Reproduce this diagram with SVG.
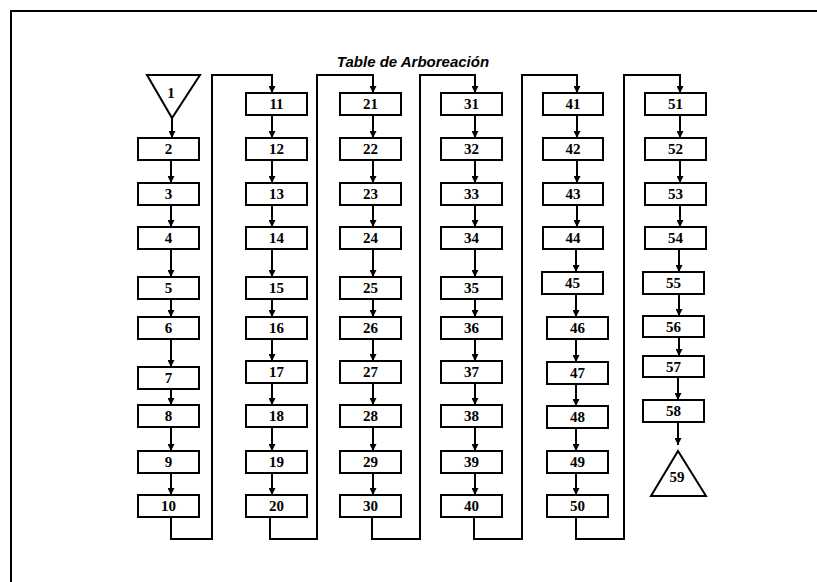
<svg xmlns="http://www.w3.org/2000/svg" width="817" height="582" viewBox="0 0 817 582">
<defs>
<marker id="ah" markerWidth="7" markerHeight="7" refX="7" refY="3.5" orient="auto" markerUnits="userSpaceOnUse"><path d="M0,0 L7,3.5 L0,7 z" fill="#000"/></marker>
<style>
.b{fill:#fff;stroke:#000;stroke-width:2}
.t{font-family:"Liberation Serif","Times New Roman",serif;font-weight:bold;font-size:15px;text-anchor:middle;dominant-baseline:central;fill:#000}
.c{fill:none;stroke:#000;stroke-width:2}
.a{fill:none;stroke:#000;stroke-width:2;marker-end:url(#ah)}
.title{font-family:"Liberation Sans",Arial,sans-serif;font-weight:bold;font-style:italic;font-size:15px;text-anchor:middle;fill:#000}
</style>
</defs>
<rect width="817" height="582" fill="#fff"/>
<path class="c" d="M11,582 V11 H817"/>
<text class="title" x="413" y="67">Table de Arboreación</text>

<g id="n1"><polygon class="b" points="147,75 200,75 172,118"/><text class="t" x="171" y="93">1</text></g>
<g id="n2"><rect class="b" x="138" y="138" width="61" height="22"/><text class="t" x="168.5" y="149">2</text></g>
<g id="n3"><rect class="b" x="138" y="183" width="61" height="22"/><text class="t" x="168.5" y="194">3</text></g>
<g id="n4"><rect class="b" x="138" y="227" width="61" height="22"/><text class="t" x="168.5" y="238">4</text></g>
<g id="n5"><rect class="b" x="138" y="277" width="61" height="22"/><text class="t" x="168.5" y="288">5</text></g>
<g id="n6"><rect class="b" x="138" y="317" width="61" height="22"/><text class="t" x="168.5" y="328">6</text></g>
<g id="n7"><rect class="b" x="138" y="367" width="61" height="22"/><text class="t" x="168.5" y="378">7</text></g>
<g id="n8"><rect class="b" x="138" y="405" width="61" height="22"/><text class="t" x="168.5" y="416">8</text></g>
<g id="n9"><rect class="b" x="138" y="451" width="61" height="22"/><text class="t" x="168.5" y="462">9</text></g>
<g id="n10"><rect class="b" x="138" y="495" width="61" height="22"/><text class="t" x="168.5" y="506">10</text></g>

<g id="n11"><rect class="b" x="246" y="93" width="61" height="22"/><text class="t" x="276.5" y="104">11</text></g>
<g id="n12"><rect class="b" x="246" y="138" width="61" height="22"/><text class="t" x="276.5" y="149">12</text></g>
<g id="n13"><rect class="b" x="246" y="183" width="61" height="22"/><text class="t" x="276.5" y="194">13</text></g>
<g id="n14"><rect class="b" x="246" y="227" width="61" height="22"/><text class="t" x="276.5" y="238">14</text></g>
<g id="n15"><rect class="b" x="246" y="277" width="61" height="22"/><text class="t" x="276.5" y="288">15</text></g>
<g id="n16"><rect class="b" x="246" y="317" width="61" height="22"/><text class="t" x="276.5" y="328">16</text></g>
<g id="n17"><rect class="b" x="246" y="361" width="61" height="22"/><text class="t" x="276.5" y="372">17</text></g>
<g id="n18"><rect class="b" x="246" y="405" width="61" height="22"/><text class="t" x="276.5" y="416">18</text></g>
<g id="n19"><rect class="b" x="246" y="451" width="61" height="22"/><text class="t" x="276.5" y="462">19</text></g>
<g id="n20"><rect class="b" x="246" y="495" width="61" height="22"/><text class="t" x="276.5" y="506">20</text></g>

<g id="n21"><rect class="b" x="340" y="93" width="61" height="22"/><text class="t" x="370.5" y="104">21</text></g>
<g id="n22"><rect class="b" x="340" y="138" width="61" height="22"/><text class="t" x="370.5" y="149">22</text></g>
<g id="n23"><rect class="b" x="340" y="183" width="61" height="22"/><text class="t" x="370.5" y="194">23</text></g>
<g id="n24"><rect class="b" x="340" y="227" width="61" height="22"/><text class="t" x="370.5" y="238">24</text></g>
<g id="n25"><rect class="b" x="340" y="277" width="61" height="22"/><text class="t" x="370.5" y="288">25</text></g>
<g id="n26"><rect class="b" x="340" y="317" width="61" height="22"/><text class="t" x="370.5" y="328">26</text></g>
<g id="n27"><rect class="b" x="340" y="361" width="61" height="22"/><text class="t" x="370.5" y="372">27</text></g>
<g id="n28"><rect class="b" x="340" y="405" width="61" height="22"/><text class="t" x="370.5" y="416">28</text></g>
<g id="n29"><rect class="b" x="340" y="451" width="61" height="22"/><text class="t" x="370.5" y="462">29</text></g>
<g id="n30"><rect class="b" x="340" y="495" width="61" height="22"/><text class="t" x="370.5" y="506">30</text></g>

<g id="n31"><rect class="b" x="441" y="93" width="61" height="22"/><text class="t" x="471.5" y="104">31</text></g>
<g id="n32"><rect class="b" x="441" y="138" width="61" height="22"/><text class="t" x="471.5" y="149">32</text></g>
<g id="n33"><rect class="b" x="441" y="183" width="61" height="22"/><text class="t" x="471.5" y="194">33</text></g>
<g id="n34"><rect class="b" x="441" y="227" width="61" height="22"/><text class="t" x="471.5" y="238">34</text></g>
<g id="n35"><rect class="b" x="441" y="277" width="61" height="22"/><text class="t" x="471.5" y="288">35</text></g>
<g id="n36"><rect class="b" x="441" y="317" width="61" height="22"/><text class="t" x="471.5" y="328">36</text></g>
<g id="n37"><rect class="b" x="441" y="361" width="61" height="22"/><text class="t" x="471.5" y="372">37</text></g>
<g id="n38"><rect class="b" x="441" y="405" width="61" height="22"/><text class="t" x="471.5" y="416">38</text></g>
<g id="n39"><rect class="b" x="441" y="451" width="61" height="22"/><text class="t" x="471.5" y="462">39</text></g>
<g id="n40"><rect class="b" x="441" y="495" width="61" height="22"/><text class="t" x="471.5" y="506">40</text></g>

<g id="n41"><rect class="b" x="543" y="93" width="60" height="22"/><text class="t" x="573" y="104">41</text></g>
<g id="n42"><rect class="b" x="543" y="138" width="60" height="22"/><text class="t" x="573" y="149">42</text></g>
<g id="n43"><rect class="b" x="543" y="183" width="60" height="22"/><text class="t" x="573" y="194">43</text></g>
<g id="n44"><rect class="b" x="543" y="227" width="60" height="22"/><text class="t" x="573" y="238">44</text></g>
<g id="n45"><rect class="b" x="542" y="272" width="61" height="22"/><text class="t" x="572.5" y="283">45</text></g>
<g id="n46"><rect class="b" x="547" y="317" width="61" height="22"/><text class="t" x="577.5" y="328">46</text></g>
<g id="n47"><rect class="b" x="547" y="362" width="61" height="22"/><text class="t" x="577.5" y="373">47</text></g>
<g id="n48"><rect class="b" x="547" y="406" width="61" height="22"/><text class="t" x="577.5" y="417">48</text></g>
<g id="n49"><rect class="b" x="547" y="451" width="61" height="22"/><text class="t" x="577.5" y="462">49</text></g>
<g id="n50"><rect class="b" x="547" y="495" width="61" height="22"/><text class="t" x="577.5" y="506">50</text></g>

<g id="n51"><rect class="b" x="645" y="93" width="61" height="22"/><text class="t" x="675.5" y="104">51</text></g>
<g id="n52"><rect class="b" x="645" y="138" width="61" height="22"/><text class="t" x="675.5" y="149">52</text></g>
<g id="n53"><rect class="b" x="645" y="183" width="61" height="22"/><text class="t" x="675.5" y="194">53</text></g>
<g id="n54"><rect class="b" x="645" y="227" width="61" height="22"/><text class="t" x="675.5" y="238">54</text></g>
<g id="n55"><rect class="b" x="643" y="272" width="61" height="22"/><text class="t" x="673.5" y="283">55</text></g>
<g id="n56"><rect class="b" x="643" y="316" width="61" height="21"/><text class="t" x="673.5" y="326.5">56</text></g>
<g id="n57"><rect class="b" x="643" y="356" width="61" height="21"/><text class="t" x="673.5" y="366.5">57</text></g>
<g id="n58"><rect class="b" x="643" y="400" width="61" height="22"/><text class="t" x="673.5" y="411">58</text></g>
<g id="n59"><polygon class="b" points="678,451 706,496 651,496"/><text class="t" x="677" y="477" font-size="13">59</text></g>

<g id="connectors">
<path class="a" d="M172,118 V138"/>
<path class="a" d="M171,160 V183"/>
<path class="a" d="M171,205 V227"/>
<path class="a" d="M171,249 V277"/>
<path class="a" d="M171,299 V317"/>
<path class="a" d="M171,339 V367"/>
<path class="a" d="M171,389 V405"/>
<path class="a" d="M171,427 V451"/>
<path class="a" d="M171,473 V495"/>
<path class="a" d="M171,517 V539 H212 V75 H272 V93"/>

<path class="a" d="M272,115 V138"/>
<path class="a" d="M272,160 V183"/>
<path class="a" d="M272,205 V227"/>
<path class="a" d="M272,249 V277"/>
<path class="a" d="M272,299 V317"/>
<path class="a" d="M272,339 V361"/>
<path class="a" d="M272,383 V405"/>
<path class="a" d="M272,427 V451"/>
<path class="a" d="M272,473 V495"/>
<path class="a" d="M270,517 V539 H317 V75 H373 V93"/>

<path class="a" d="M373,115 V138"/>
<path class="a" d="M373,160 V183"/>
<path class="a" d="M373,205 V227"/>
<path class="a" d="M373,249 V277"/>
<path class="a" d="M373,299 V317"/>
<path class="a" d="M373,339 V361"/>
<path class="a" d="M373,383 V405"/>
<path class="a" d="M373,427 V451"/>
<path class="a" d="M373,473 V495"/>
<path class="a" d="M372,517 V539 H420 V75 H475 V93"/>

<path class="a" d="M475,115 V138"/>
<path class="a" d="M475,160 V183"/>
<path class="a" d="M475,205 V227"/>
<path class="a" d="M475,249 V277"/>
<path class="a" d="M475,299 V317"/>
<path class="a" d="M475,339 V361"/>
<path class="a" d="M475,383 V405"/>
<path class="a" d="M475,427 V451"/>
<path class="a" d="M475,473 V495"/>
<path class="a" d="M474,517 V539 H522 V75 H577 V93"/>

<path class="a" d="M577,115 V138"/>
<path class="a" d="M577,160 V183"/>
<path class="a" d="M577,205 V227"/>
<path class="a" d="M576,249 V272"/>
<path class="a" d="M576,294 V317"/>
<path class="a" d="M576,339 V362"/>
<path class="a" d="M576,384 V406"/>
<path class="a" d="M576,428 V451"/>
<path class="a" d="M576,473 V495"/>
<path class="a" d="M576,517 V539 H624 V75 H680 V93"/>

<path class="a" d="M680,115 V138"/>
<path class="a" d="M680,160 V183"/>
<path class="a" d="M680,205 V227"/>
<path class="a" d="M679,249 V272"/>
<path class="a" d="M679,294 V316"/>
<path class="a" d="M679,337 V356"/>
<path class="a" d="M678,377 V400"/>
<path class="a" d="M678,422 V445"/>
</g>
</svg>
